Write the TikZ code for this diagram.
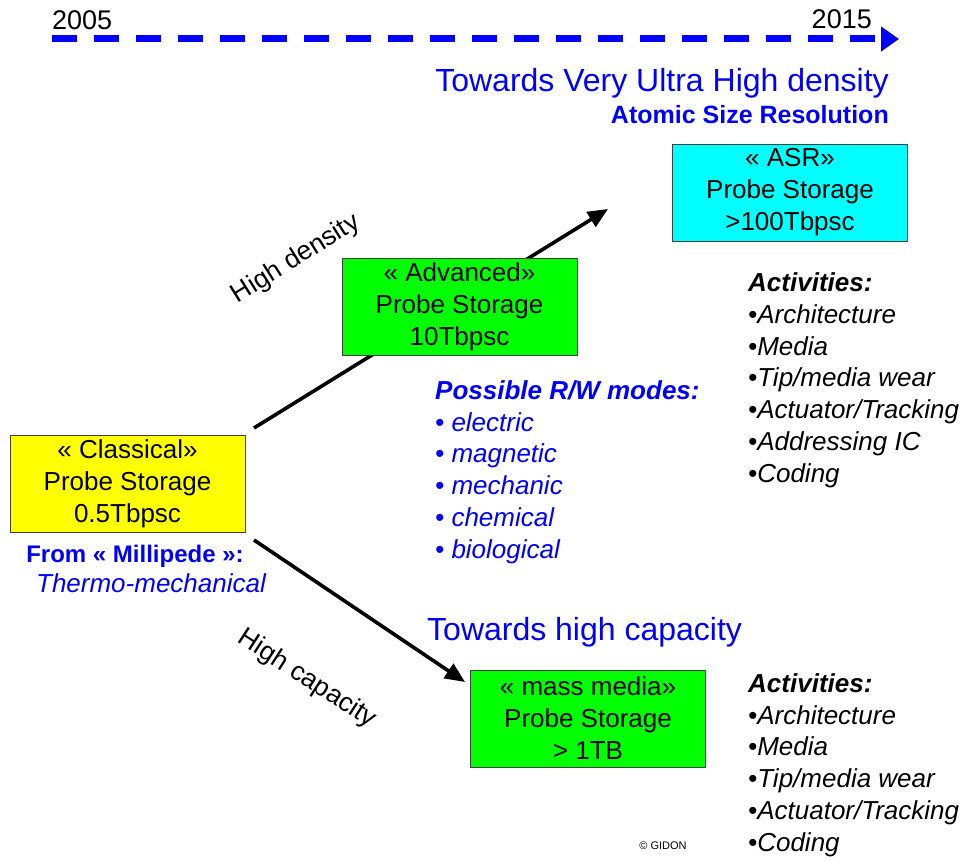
\documentclass[tikz,border=0pt]{standalone}
\usepackage{fontspec}
\setmainfont{Liberation Sans}
\usetikzlibrary{arrows.meta}

\definecolor{classicyellow}{RGB}{255,255,0}
\definecolor{advgreen}{RGB}{0,255,0}
\definecolor{asrcyan}{RGB}{0,255,255}

\begin{document}
\begin{tikzpicture}[x=1pt, y=-1pt,
    storage/.style ={draw=black!75, line width=0.8pt, minimum width=235pt,
                     minimum height=97pt, inner sep=0pt, align=center,
                     font=\fontsize{26}{32}\selectfont,
                     execute at begin node=\rule{0pt}{25pt}},
    heading/.style ={text=blue, inner sep=0pt, font=\fontsize{32}{36}\selectfont},
    itemlist/.style ={align=left, anchor=base west, inner sep=0pt,
                     font=\fontsize{26}{31.7}\selectfont\itshape},
    trend/.style ={line width=3.6pt, -{Triangle[length=20pt,width=17pt]}},
    trendlabel/.style ={inner sep=0pt, font=\fontsize{26.5}{30}\selectfont}]
   \useasboundingbox (0,0) rectangle (972,861);

   % time line
   \coordinate (T0) at (52,39);
   \coordinate (T1) at (899,39);
   \draw[blue, line width=7pt, dash pattern=on 25pt off 17pt,
         -{Triangle[length=18pt,width=24pt]}] (T0) -- (T1);
   \node[anchor=base west, inner sep=0pt, font=\fontsize{27}{30}\selectfont] (Y0) at (52,30) {2005};
   \node[anchor=base east, inner sep=0pt, font=\fontsize{27}{30}\selectfont] (Y1) at (872,29) {2015};

   % trends
   \coordinate (D0) at (254,428);
   \coordinate (D1) at (608,209);
   \coordinate (K0) at (254,540);
   \coordinate (K1) at (465,682);
   \draw[trend] (D0) to (D1);
   \draw[trend] (K0) to (K1);
   \node[trendlabel, rotate=32] (DL) at (296,259) {High density};
   \node[trendlabel, rotate=-33] (KL) at (307,679) {High capacity};

   % storage boxes
   \node[storage, fill=classicyellow] (C) at (127.5,484) {« Classical»\\Probe Storage\\0.5Tbpsc};
   \node[storage, fill=advgreen] (A) at (459.5,307) {« Advanced»\\Probe Storage\\10Tbpsc};
   \node[storage, fill=asrcyan] (R) at (790,192.5) {« ASR»\\Probe Storage\\>100Tbpsc};
   \node[storage, fill=advgreen] (M) at (588,718.5) {« mass media»\\Probe Storage\\> 1TB};

   % headings
   \node[heading, anchor=base east] (H1) at (889,92) {Towards Very Ultra High density};
   \node[heading, anchor=base east, font=\fontsize{25}{30}\selectfont\bfseries] (H2) at (889,124) {Atomic Size Resolution};
   \node[heading, anchor=base west] (H3) at (427,640) {Towards high capacity};

   % texts (base = last line)
   \node[anchor=base, inner sep=0pt, text=blue, font=\fontsize{24}{28}\selectfont\bfseries] (F1) at (135,562) {From « Millipede »:};
   \node[anchor=base, inner sep=0pt, text=blue, font=\fontsize{26}{30}\selectfont\itshape] (F2) at (151,592) {Thermo-mechanical};
   \node[itemlist, text=blue] (RW) at (435,558) {\textbf{Possible R/W modes:}\\• electric\\• magnetic\\• mechanic\\• chemical\\• biological};
   \node[itemlist] (AT) at (748,482) {\textbf{Activities:}\\•Architecture\\•Media\\•Tip/media wear\\•Actuator/Tracking\\•Addressing IC\\•Coding};
   \node[itemlist] (AB) at (748,851) {\textbf{Activities:}\\•Architecture\\•Media\\•Tip/media wear\\•Actuator/Tracking\\•Coding};
   \node[anchor=base, inner sep=0pt, font=\fontsize{11}{13}\selectfont] (G) at (663,849) {© GIDON};
 \end{tikzpicture}
\end{document}
